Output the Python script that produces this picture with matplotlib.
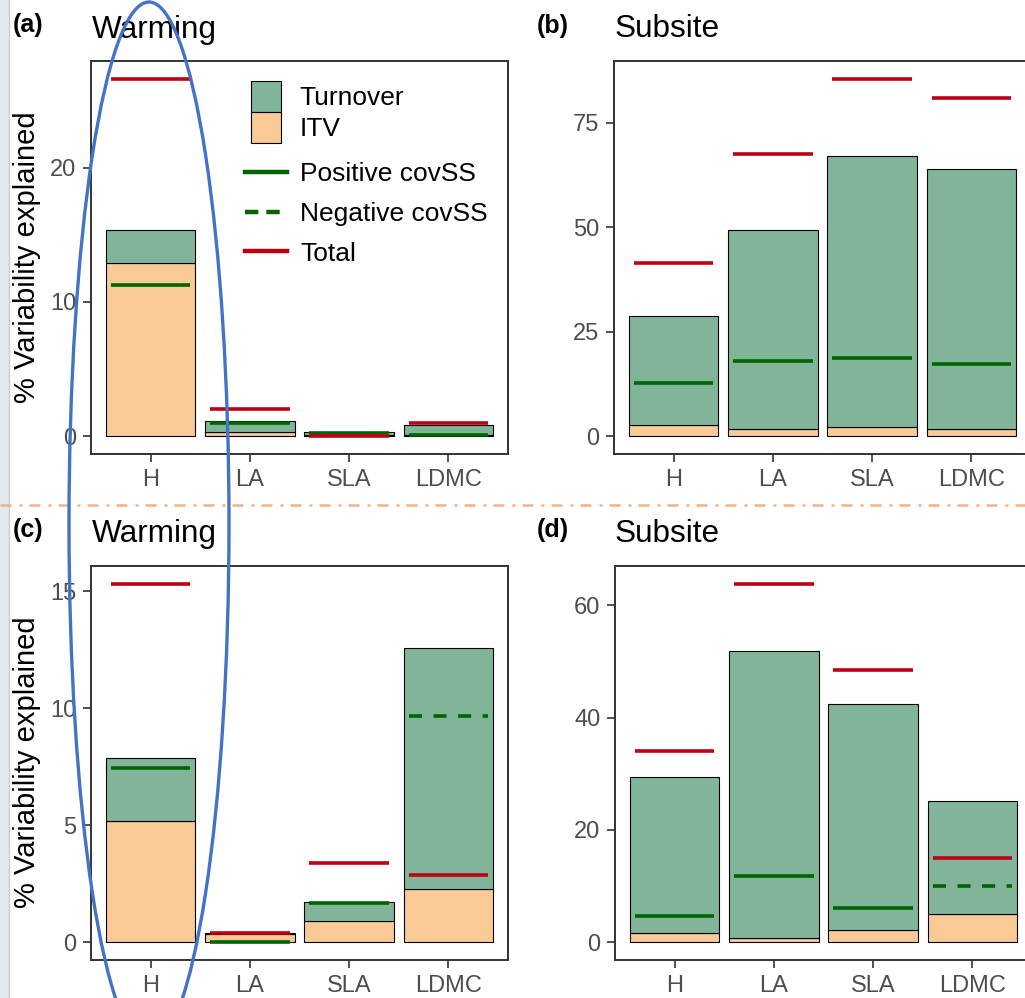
import numpy as np
import matplotlib.pyplot as plt
from matplotlib.patches import Patch, Ellipse, Rectangle
from matplotlib.lines import Line2D

plt.rcParams['font.family'] = ['Liberation Sans', 'DejaVu Sans']

traits = ['H', 'LA', 'SLA', 'LDMC']

# (a) warming
a_itv = [12.9, 0.32, 0.05, 0.05]
a_turn = [2.45, 0.77, 0.25, 0.80]
a_cov = [11.25, 1.0, 0.25, 0.1]
a_total = [26.6, 2.05, 0.02, 0.95]
a_neg = [False, False, False, False]

# (b) subsite
b_itv = [2.55, 1.6, 2.2, 1.75]
b_turn = [26.25, 47.8, 64.8, 62.15]
b_cov = [12.6, 18.1, 18.6, 17.3]
b_total = [41.5, 67.4, 85.5, 81.0]
b_neg = [False, False, False, False]

# (c) warming
c_itv = [5.17, 0.33, 0.9, 2.25]
c_turn = [2.69, 0.05, 0.81, 10.31]
c_cov = [7.44, 0.02, 1.67, 9.69]
c_total = [15.32, 0.4, 3.39, 2.88]
c_neg = [False, False, False, True]

# (d) subsite
d_itv = [1.66, 0.78, 2.08, 5.05]
d_turn = [27.74, 51.12, 40.32, 20.15]
d_cov = [4.57, 11.7, 6.05, 9.96]
d_total = [34.0, 63.8, 48.5, 15.0]
d_neg = [False, False, False, True]

col_turn = '#80B59A'
col_itv = '#F9CA96'
col_red = '#C00014'
col_green = '#006400'
frame_col = '#333333'

W, H = 1025, 998
fig = plt.figure(figsize=(W / 100, H / 100), dpi=100)
fig.patch.set_facecolor('white')


def px(x, y):
    return x / W, 1 - y / H


def panel(left, top, bottom, itv, turn, cov, total, neg):
    x0, y0 = px(left, bottom)
    w = 417 / W
    h = (bottom - top) / H
    ax = fig.add_axes([x0, y0, w, h])
    x = np.arange(len(traits))
    ax.bar(x, itv, width=0.9, color=col_itv, edgecolor='black', linewidth=0.8, zorder=2)
    ax.bar(x, turn, width=0.9, bottom=itv, color=col_turn, edgecolor='black', linewidth=0.8, zorder=2)
    for i in range(len(traits)):
        ls = (0, (3.6, 3.2)) if neg[i] else '-'
        ax.plot([x[i] - 0.4, x[i] + 0.4], [cov[i], cov[i]], color=col_green, lw=2.6, ls=ls,
                solid_capstyle='butt', zorder=3)
        ax.plot([x[i] - 0.4, x[i] + 0.4], [total[i], total[i]], color=col_red, lw=2.6,
                solid_capstyle='butt', zorder=4)
    top_val = max(max(total), max(np.array(itv) + np.array(turn)), max(cov))
    ax.set_ylim(-0.05 * top_val, 1.05 * top_val)
    ax.set_xlim(-0.6, 3.6)
    ax.set_xticks(x)
    ax.set_xticklabels(traits)
    for s in ax.spines.values():
        s.set_color(frame_col)
        s.set_linewidth(1.4)
    ax.tick_params(colors=frame_col, labelcolor='#4D4D4D', labelsize=17, length=5.5,
                   width=1.2, pad=5)
    return ax


ax_a = panel(91, 61, 454, a_itv, a_turn, a_cov, a_total, a_neg)
ax_a.set_yticks([0, 10, 20])
ax_b = panel(614, 61, 454, b_itv, b_turn, b_cov, b_total, b_neg)
ax_b.set_yticks([0, 25, 50, 75])
ax_c = panel(91, 566, 960, c_itv, c_turn, c_cov, c_total, c_neg)
ax_c.set_yticks([0, 5, 10, 15])
ax_d = panel(615, 566, 960, d_itv, d_turn, d_cov, d_total, d_neg)
ax_d.set_yticks([0, 20, 40, 60])

# titles and tags
for (tx, ty, tag), (sx, sy, title) in [
        ((13, 32, '(a)'), (92, 38, 'Warming')),
        ((537, 33, '(b)'), (615, 37, 'Subsite')),
        ((13, 537, '(c)'), (92, 542, 'Warming')),
        ((537, 537, '(d)'), (615, 542, 'Subsite'))]:
    fig.text(*px(tx, ty), tag, fontsize=18, fontweight='bold', va='baseline', ha='left')
    fig.text(*px(sx, sy), title, fontsize=22.7, va='baseline', ha='left')

fig.text(*px(27, 257), '% Variability explained', rotation=90, fontsize=21,
         va='center', ha='center')
fig.text(*px(27, 762), '% Variability explained', rotation=90, fontsize=21,
         va='center', ha='center')

# legend
fill_handles = [Patch(facecolor=col_turn, edgecolor='black', linewidth=0.8),
                Patch(facecolor=col_itv, edgecolor='black', linewidth=0.8)]
leg1 = fig.legend(fill_handles, ['Turnover', 'ITV'], loc='upper left',
                  bbox_to_anchor=px(251, 81), frameon=False, fontsize=19,
                  handlelength=1.14, handleheight=1.43, labelspacing=0,
                  handletextpad=0.7, borderpad=0, borderaxespad=0)
line_handles = [Line2D([], [], color=col_green, lw=3.2),
                Line2D([], [], color=col_green, lw=3.2, ls=(0, (3, 1.8))),
                Line2D([], [], color=col_red, lw=3.2)]
leg2 = fig.legend(line_handles, ['Positive covSS', 'Negative covSS', 'Total'], loc='upper left',
                  bbox_to_anchor=px(245, 162), frameon=False, fontsize=19,
                  handlelength=1.6, labelspacing=0.6, handletextpad=0.48,
                  borderpad=0, borderaxespad=0)

# slide decorations
fig.add_artist(Rectangle((0, 0), 9 / W, 1, transform=fig.transFigure,
                         facecolor='#e4e8ec', edgecolor='none', zorder=-1))
fig.add_artist(Line2D([9 / W, 9 / W], [0, 1], transform=fig.transFigure,
                      color='#c8ccd0', lw=1, zorder=-1))
fig.add_artist(Line2D([0, 1], [1 - 504.5 / H] * 2, transform=fig.transFigure,
                      color='#F4B183', lw=1.8, ls=(0, (4.4, 3.2, 1.2, 2.8)), zorder=6))
fig.add_artist(Ellipse(px(149, 524), 160 / W, 1044 / H, transform=fig.transFigure,
                       fill=False, edgecolor='#4472C4', lw=2.4, zorder=7))

fig.savefig('out.png', dpi=100)
